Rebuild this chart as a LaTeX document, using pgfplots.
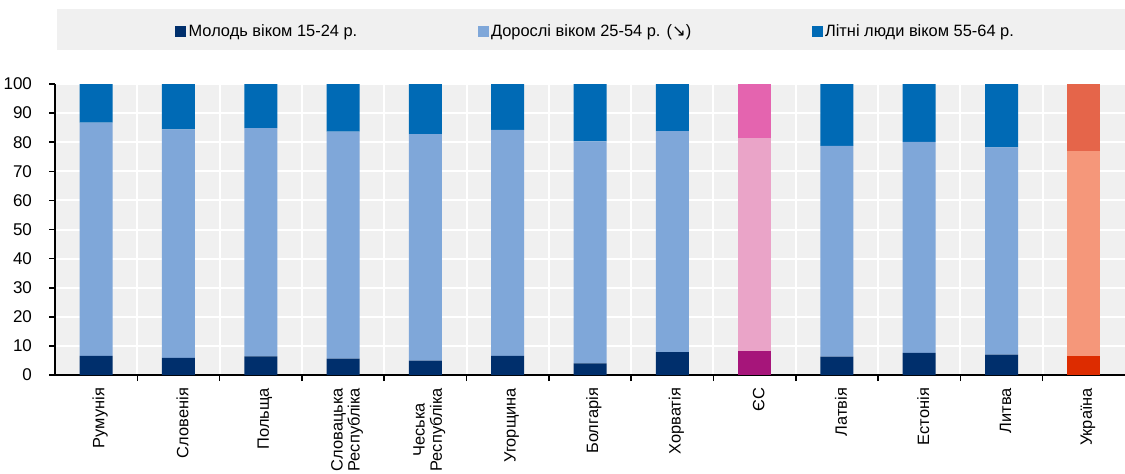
\documentclass[border=0pt]{standalone}
\usepackage{pgfplots}
\usepackage{pgfplotstable}
\usepackage{fontspec}
\pgfplotsset{compat=1.18}
\setmainfont{Liberation Sans}
\newfontfamily\dejavu{DejaVu Sans}

\definecolor{bggrey}{HTML}{F0F0F0}
\definecolor{navy}{HTML}{002F6C}
\definecolor{lblue}{HTML}{7FA7D9}
\definecolor{mblue}{HTML}{006AB5}
\definecolor{euDark}{HTML}{A6157A}
\definecolor{euLight}{HTML}{EAA4C8}
\definecolor{euTop}{HTML}{E464AF}
\definecolor{uaDark}{HTML}{DD2C00}
\definecolor{uaLight}{HTML}{F5977A}
\definecolor{uaTop}{HTML}{E5654A}

% x: 0 Румунія ... 8 ЄС ... 12 Україна
\pgfplotstableread{
x  yN   yE   yU   aN   aE   aU   oN   oE   oU
0  6.6  0    0    80.1 0    0    13.3 0    0
1  5.9  0    0    78.5 0    0    15.6 0    0
2  6.4  0    0    78.4 0    0    15.2 0    0
3  5.6  0    0    78.0 0    0    16.4 0    0
4  4.9  0    0    77.9 0    0    17.2 0    0
5  6.6  0    0    77.6 0    0    15.8 0    0
6  4.0  0    0    76.3 0    0    19.7 0    0
7  7.9  0    0    75.9 0    0    16.2 0    0
8  0    8.2  0    0    73.2 0    0    18.6 0
9  6.3  0    0    72.4 0    0    21.3 0    0
10 7.6  0    0    72.5 0    0    19.9 0    0
11 7.0  0    0    71.2 0    0    21.8 0    0
12 0    0    6.5  0    0    70.5 0    0    23.0
}\shares

\begin{document}
\begin{tikzpicture}[x=1pt,y=1pt]
\useasboundingbox (0,0) rectangle (562.5,236.5);
\fill[bggrey] (28.5,211.5) rectangle (562.5,232);
\begin{axis}[
    at={(27.5pt,49pt)}, anchor=south west,
    scale only axis, width=535pt, height=145.5pt,
    ybar stacked, bar width=16.5pt,
    xmin=-0.5, xmax=12.5, ymin=0, ymax=100,
    axis lines=left, axis line style={black, line width=0.8pt, -},
    axis background/.style={fill=bggrey},
    xtick={0,...,12},
    xticklabels={Румунія,Словенія,Польща,{Словацька\\Республіка},{Чеська\\Республіка},Угорщина,Болгарія,Хорватія,ЄС,Латвія,Естонія,Литва,Україна},
    major x tick style={draw=none},
    minor xtick={0.5,1.5,...,11.5},
    xminorgrids, minor grid style={white, line width=1pt},
    minor x tick style={black, line width=0.8pt},
    ytick={0,10,...,100},
    ymajorgrids, major grid style={white, line width=1pt},
    major y tick style={black, line width=0.8pt},
    tick align=outside, major tick length=3pt, minor tick length=3pt,
    xticklabel style={rotate=90, anchor=east, align=center, font=\fontsize{8.2}{8.6}\selectfont, yshift=-2pt},
    yticklabel style={font=\fontsize{8.5}{10}\selectfont, xshift=-5pt},
    /pgf/number format/assume math mode=true,
    legend style={at={(axis description cs:0.112,1.18)}, anchor=west,
        draw=none, fill=none, inner sep=0pt, legend columns=3,
        font=\fontsize{8.2}{9}\selectfont,
        nodes={inner sep=1.2pt},
        /tikz/every even column/.append style={column sep=59pt}},
    legend image code/.code={\fill[#1] (0pt,-2.75pt) rectangle (5.5pt,2.75pt);},
]
\addplot[fill=navy, draw=none] table[x=x, y=yN] {\shares};
\addlegendentry{Молодь віком 15-24 р.}
\addplot[fill=euDark, draw=none, forget plot] table[x=x, y=yE] {\shares};
\addplot[fill=uaDark, draw=none, forget plot] table[x=x, y=yU] {\shares};
\addplot[fill=lblue, draw=none] table[x=x, y=aN] {\shares};
\addlegendentry{Дорослі віком 25-54 р. ({\dejavu ↘})}
\addplot[fill=euLight, draw=none, forget plot] table[x=x, y=aE] {\shares};
\addplot[fill=uaLight, draw=none, forget plot] table[x=x, y=aU] {\shares};
\addplot[fill=mblue, draw=none] table[x=x, y=oN] {\shares};
\addlegendentry{Літні люди віком 55-64 р.}
\addplot[fill=euTop, draw=none, forget plot] table[x=x, y=oE] {\shares};
\addplot[fill=uaTop, draw=none, forget plot] table[x=x, y=oU] {\shares};
\end{axis}
\end{tikzpicture}
\end{document}
